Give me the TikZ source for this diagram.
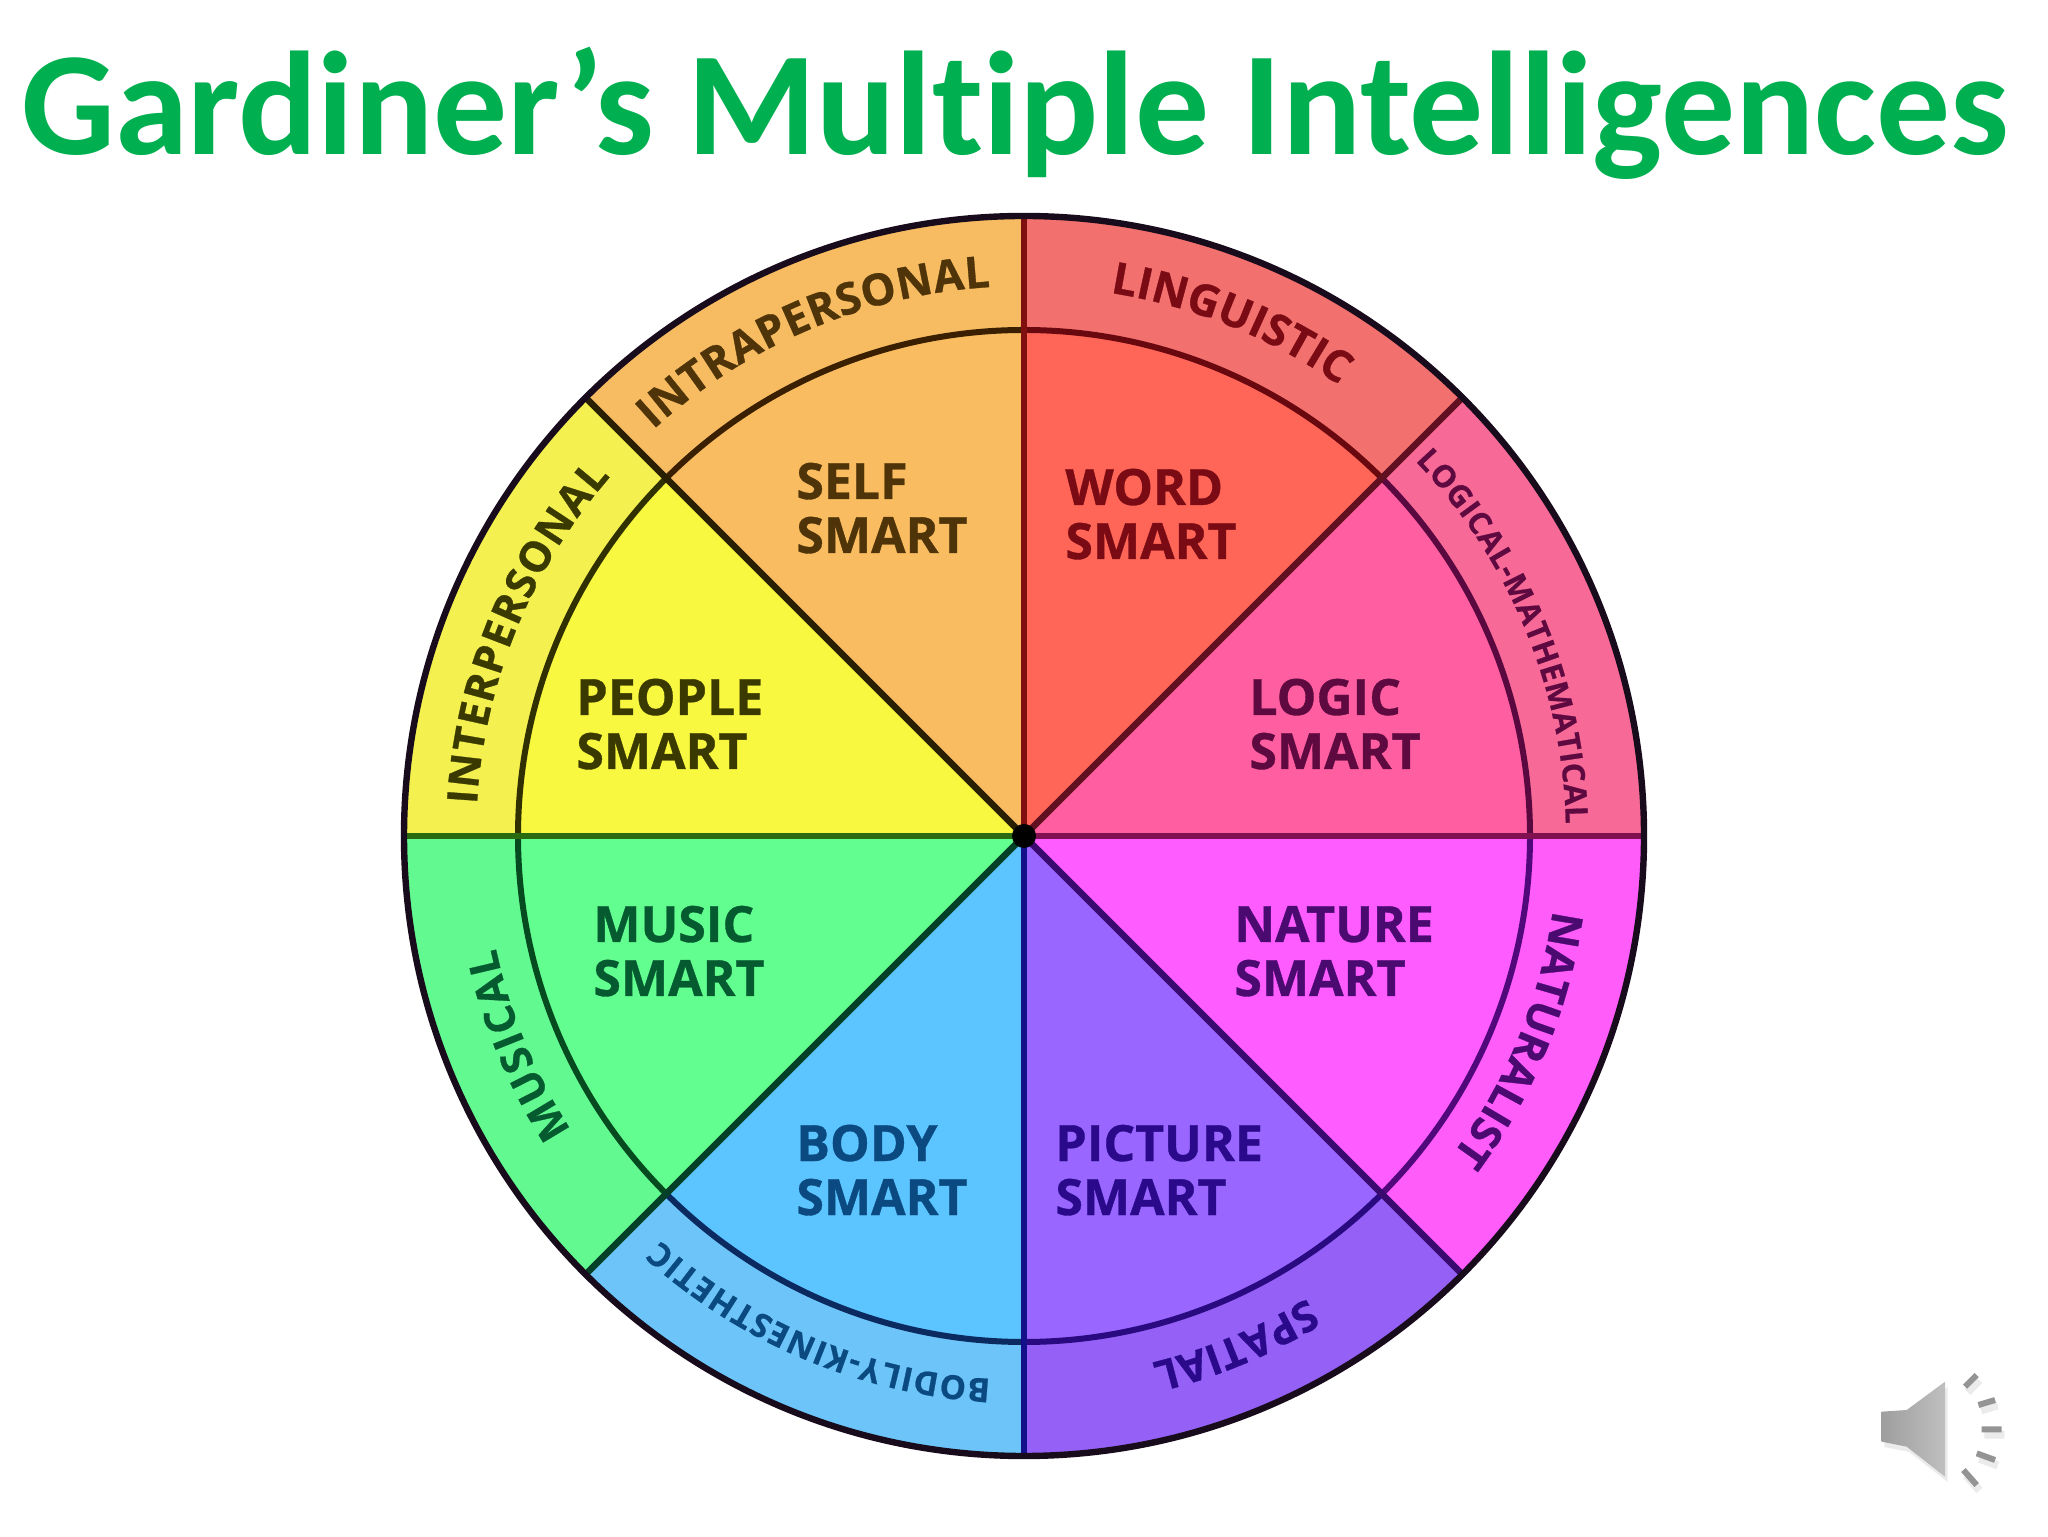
\documentclass[tikz,border=0pt]{standalone}
\usepackage{fontspec}
\setmainfont{Open Sans}[BoldFeatures={FakeBold=0.7}]
\newfontfamily\titlefont{Carlito}[Ligatures=NoCommon]
\usetikzlibrary{decorations.text,shadings}
\definecolor{titlegreen}{HTML}{00B050}
\definecolor{ringline}{HTML}{180C1C}
\definecolor{selfin}{HTML}{FABC60}\definecolor{selfout}{HTML}{F7BC62}\definecolor{selfline}{HTML}{3A2000}\definecolor{selftext}{HTML}{4E3408}
\definecolor{wordin}{HTML}{FF6657}\definecolor{wordout}{HTML}{F2706D}\definecolor{wordline}{HTML}{6A0810}\definecolor{wordtext}{HTML}{7A0A14}
\definecolor{logicin}{HTML}{FF5FA0}\definecolor{logicout}{HTML}{F76A97}\definecolor{logicline}{HTML}{5A0840}\definecolor{logictext}{HTML}{5E0A40}
\definecolor{naturein}{HTML}{FF5CFF}\definecolor{natureout}{HTML}{FF5CFA}\definecolor{natureline}{HTML}{50087A}\definecolor{naturetext}{HTML}{4A0A70}
\definecolor{picin}{HTML}{9966FF}\definecolor{picout}{HTML}{9460F5}\definecolor{picline}{HTML}{2A0A80}\definecolor{pictext}{HTML}{2A0A8A}
\definecolor{bodyin}{HTML}{5CC4FF}\definecolor{bodyout}{HTML}{6CC4F8}\definecolor{bodyline}{HTML}{0A2A60}\definecolor{bodytext}{HTML}{0A4A80}
\definecolor{musicin}{HTML}{62FF90}\definecolor{musicout}{HTML}{62FA90}\definecolor{musicline}{HTML}{064A20}\definecolor{musictext}{HTML}{065A30}
\definecolor{peoplein}{HTML}{F8F840}\definecolor{peopleout}{HTML}{F3F050}\definecolor{peopleline}{HTML}{303000}\definecolor{peopletext}{HTML}{3A3A00}
\definecolor{spokeA}{HTML}{801010}\definecolor{spokeB}{HTML}{601020}\definecolor{spokeC}{HTML}{801050}\definecolor{spokeD}{HTML}{3A0A70}
\definecolor{spokeE}{HTML}{14108A}\definecolor{spokeF}{HTML}{044028}\definecolor{spokeG}{HTML}{2A6A10}\definecolor{spokeH}{HTML}{2A2000}
\tikzset{
  smart/.style={font=\fontsize{25}{27}\selectfont\bfseries,align=left,anchor=base west,inner sep=0pt},
  ringarc/.style={line width=3pt},
  spoke/.style={line width=3.3pt},
  spkshadow/.style={fill=black!8,draw=none},
  spktick/.style={draw=black!42,line width=3pt},
  spktickshadow/.style={draw=black!8,line width=4pt},
}
\newcommand{\bandlabel}[6]{% start angle, end angle, radius, size, colour, text
  \path[decorate,decoration={text along path,text align={fit to path},
    text color=#5,
    text={|\fontsize{#4}{#4}\selectfont\bfseries|#6}}]
    (#1:#3) arc[start angle=#1,end angle=#2,radius=#3];
}
\begin{document}
\begin{tikzpicture}[x=0.5pt,y=0.5pt]
\useasboundingbox (0,0) rectangle (2048,1536);
\fill[white] (0,0) rectangle (2048,1536);
\node[font=\titlefont\fontsize{73.8}{80}\selectfont\bfseries,text=titlegreen,anchor=base,inner sep=0pt] (title) at (1015,1381) {Gardiner’s Multiple Intelligences};
\begin{scope}[shift={(1024,700)}]
  \foreach \a/\b/\cc in {90/45/word,45/0/logic,0/-45/nature,-45/-90/pic,-90/-135/body,-135/-180/music,180/135/people,135/90/self}{
    \fill[\cc out] (0,0) -- (\a:310pt) arc[start angle=\a,end angle=\b,radius=310pt] -- cycle;
    \fill[\cc in] (0,0) -- (\a:253pt) arc[start angle=\a,end angle=\b,radius=253pt] -- cycle;
    \draw[ringarc,\cc line] (\a:253pt) arc[start angle=\a,end angle=\b,radius=253pt];
  }
  \foreach \a/\cc in {90/spokeA,45/spokeB,0/spokeC,-45/spokeD,-90/spokeE,-135/spokeF,180/spokeG,135/spokeH}{
    \draw[spoke,\cc] (0,0) -- (\a:310pt);
  }
  \draw[line width=3.2pt,ringline] (0,0) circle[radius=310pt];
  \fill[black] (0,0) circle[radius=6pt];
  \bandlabel{132.4}{93.5}{275pt}{22}{selftext}{INTRAPERSONAL}
  \bandlabel{176.7}{139}{274pt}{21}{peopletext}{INTERPERSONAL}
  \bandlabel{81}{55}{275pt}{22}{wordtext}{LINGUISTIC}
  \bandlabel{43.8}{1.3}{271pt}{15.5}{logictext}{LOGICAL-MATHEMATICAL}
  \bandlabel{-8}{-36}{267pt}{21.5}{naturetext}{NATURALIST}
  \bandlabel{-58.5}{-76}{271pt}{21}{pictext}{SPATIAL}
  \bandlabel{-93.5}{-132}{272pt}{16.5}{bodytext}{BODILY-KINESTHETIC}
  \bandlabel{213}{192}{270pt}{21}{musictext}{MUSICAL}
\end{scope}
\node[smart,text=selftext] (self) at (796,983) {SELF\\SMART};
\node[smart,text=wordtext] (word) at (1065,977) {WORD\\SMART};
\node[smart,text=peopletext] (people) at (576,767) {PEOPLE\\SMART};
\node[smart,text=logictext] (logic) at (1249,767) {LOGIC\\SMART};
\node[smart,text=musictext] (music) at (593,540) {MUSIC\\SMART};
\node[smart,text=naturetext] (nature) at (1234,540) {NATURE\\SMART};
\node[smart,text=bodytext] (body) at (796,321) {BODY\\SMART};
\node[smart,text=pictext] (picture) at (1055,321) {PICTURE\\SMART};
\begin{scope}[shift={(1800,196)},x=0.1667pt,y=-0.1667pt]
  \begin{scope}[shift={(8,16)}]
    \fill[spkshadow] (245,215) -- (320,210) -- (435,125) -- (435,410) -- (320,320) -- (245,305) -- cycle;
    \draw[spktickshadow] (495,140) -- (530,105) (535,195) -- (585,180) (545,268) -- (605,268) (530,340) -- (585,360) (490,390) -- (530,435);
  \end{scope}
  \shade[left color=black!38,right color=black!25] (245,215) -- (320,210) -- (435,125) -- (435,410) -- (320,320) -- (245,305) -- cycle;
  \draw[spktick] (495,140) -- (530,105) (535,195) -- (585,180) (545,268) -- (605,268) (530,340) -- (585,360) (490,390) -- (530,435);
\end{scope}
\end{tikzpicture}
\end{document}
